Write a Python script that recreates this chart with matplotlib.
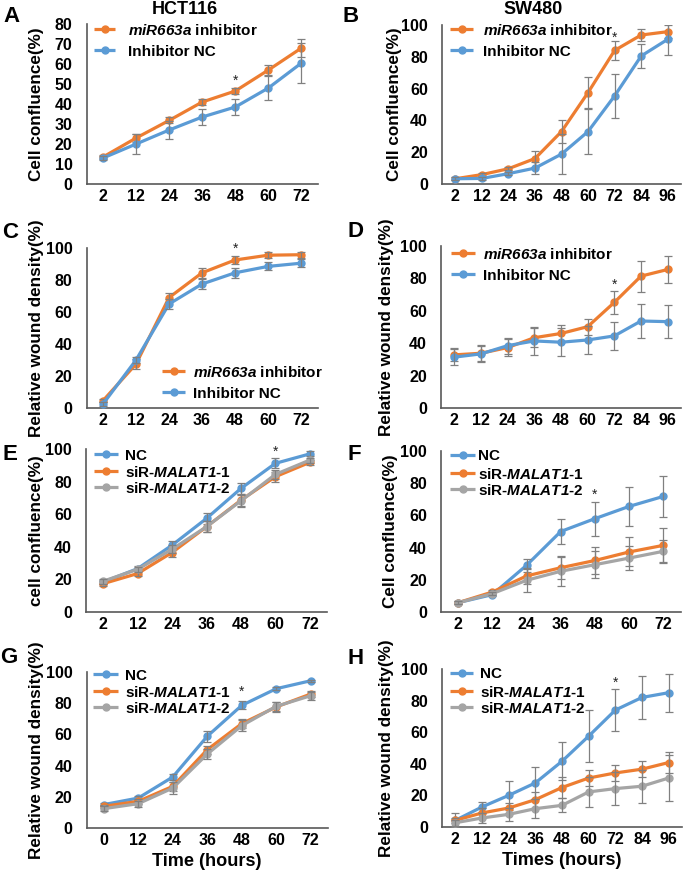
import matplotlib
matplotlib.use('Agg')
import matplotlib.pyplot as plt
from matplotlib.lines import Line2D

plt.rcParams['font.family'] = ['Liberation Sans', 'DejaVu Sans']
plt.rcParams['font.weight'] = 'bold'
plt.rcParams['mathtext.fontset'] = 'custom'
plt.rcParams['mathtext.it'] = 'Liberation Sans:italic:bold'
plt.rcParams['mathtext.rm'] = 'Liberation Sans:italic:bold'
plt.rcParams['mathtext.bf'] = 'Liberation Sans:italic:bold'

ORANGE = '#ED7D31'
BLUE = '#5B9BD5'
GRAY = '#A5A5A5'
ERRC = '#808080'
SPINE = '#595959'

# ---------------- data ----------------
x72 = ['2', '12', '24', '36', '48', '60', '72']
x96 = ['2', '12', '24', '36', '48', '60', '72', '84', '96']
x72g = ['0', '12', '24', '36', '48', '60', '72']

lab_inh = r'$\mathrm{miR663a}$ inhibitor'
lab_nc_inh = 'Inhibitor NC'
lab_nc = 'NC'
lab_si1 = r'siR-$\mathrm{MALAT1}$-1'
lab_si2 = r'siR-$\mathrm{MALAT1}$-2'

# A: HCT116 cell confluence
a_inh = [13.5, 23.0, 31.8, 41.0, 46.5, 57.0, 68.0]
a_inh_err = [1.0, 2.0, 1.5, 1.5, 1.5, 2.5, 4.5]
a_nc = [13.0, 20.0, 27.0, 33.5, 38.5, 48.0, 60.5]
a_nc_err = [1.0, 4.8, 4.5, 4.2, 4.2, 6.0, 10.0]

# B: SW480 cell confluence
b_inh = [3.3, 5.9, 9.6, 16.0, 33.0, 57.5, 84.0, 93.7, 95.8]
b_inh_err = [1.0, 1.0, 1.0, 5.0, 7.0, 10.0, 6.0, 3.5, 4.0]
b_nc = [3.3, 3.5, 6.5, 10.0, 18.8, 33.0, 55.4, 80.5, 91.0]
b_nc_err = [1.0, 1.0, 1.0, 4.0, 12.5, 14.0, 14.0, 7.5, 10.0]

# C: HCT116 relative wound density
c_inh = [4.6, 27.5, 69.0, 84.5, 92.5, 95.5, 95.8]
c_inh_err = [1.0, 3.0, 3.0, 3.0, 2.5, 2.0, 2.0]
c_nc = [2.5, 30.0, 65.0, 77.5, 84.5, 88.5, 90.5]
c_nc_err = [1.0, 2.0, 3.0, 3.0, 3.0, 2.5, 2.5]

# D: SW480 relative wound density
d_inh = [32.8, 33.8, 37.3, 43.4, 46.0, 50.2, 65.2, 81.4, 85.5]
d_inh_err = [4.0, 5.0, 5.0, 6.0, 5.0, 5.0, 7.0, 9.5, 8.5]
d_nc = [31.4, 33.4, 38.5, 41.4, 40.6, 42.0, 44.5, 53.7, 53.3]
d_nc_err = [5.0, 5.0, 5.0, 8.5, 8.5, 8.5, 8.5, 10.5, 10.0]

# E: cell confluence, siRNA
e_nc = [18.4, 26.6, 41.0, 57.4, 75.8, 91.2, 97.0]
e_nc_err = [1.5, 1.5, 2.5, 3.5, 3.5, 3.0, 1.5]
e_si1 = [17.4, 23.6, 36.5, 52.3, 68.6, 83.0, 91.8]
e_si1_err = [1.5, 1.5, 2.5, 3.5, 3.5, 3.0, 1.5]
e_si2 = [18.9, 26.2, 38.5, 52.3, 68.2, 84.4, 93.2]
e_si2_err = [1.5, 1.5, 2.5, 3.5, 3.5, 3.0, 1.5]

# F: cell confluence, siRNA
f_nc = [5.8, 10.8, 29.0, 50.0, 58.0, 65.6, 71.8]
f_nc_err = [1.0, 1.0, 4.0, 7.5, 10.5, 12.0, 12.5]
f_si1 = [5.8, 12.4, 22.4, 27.5, 32.0, 37.3, 41.4]
f_si1_err = [1.0, 1.0, 5.0, 7.0, 8.5, 9.0, 10.5]
f_si2 = [5.8, 11.4, 19.7, 25.3, 29.4, 33.5, 37.7]
f_si2_err = [1.0, 1.0, 7.0, 9.0, 8.5, 7.5, 7.0]

# G: relative wound density, siRNA
g_nc = [15.0, 19.2, 32.7, 58.8, 78.6, 89.3, 94.4]
g_nc_err = [1.0, 1.0, 2.0, 3.5, 2.5, 1.0, 0.5]
g_si1 = [13.9, 17.1, 26.7, 50.2, 66.9, 77.6, 85.9]
g_si1_err = [1.0, 1.5, 3.0, 2.5, 3.0, 3.0, 2.0]
g_si2 = [12.4, 15.6, 25.6, 47.4, 65.6, 78.0, 84.8]
g_si2_err = [1.5, 2.0, 4.0, 3.0, 3.5, 3.0, 2.5]

# H: relative wound density, siRNA
h_nc = [4.2, 12.7, 20.0, 27.9, 41.6, 57.5, 74.0, 82.0, 85.0]
h_nc_err = [4.5, 3.0, 9.0, 10.0, 12.0, 16.5, 13.5, 13.5, 12.0]
h_si1 = [4.2, 8.9, 12.0, 17.3, 25.0, 31.0, 34.2, 36.6, 40.8]
h_si1_err = [1.5, 3.0, 3.0, 5.0, 6.5, 5.0, 5.0, 5.0, 6.5]
h_si2 = [2.7, 5.7, 8.0, 11.6, 13.7, 22.2, 24.3, 25.8, 31.0]
h_si2_err = [2.0, 3.0, 4.0, 6.0, 4.5, 9.5, 10.5, 10.5, 14.5]

# ---------------- figure ----------------
W, H = 685, 871
fig = plt.figure(figsize=(W / 100, H / 100), dpi=100)


def fx(px):
    return px / W


def fy(py):
    return 1 - py / H


TICK_FS = 11.5
LAB_FS = 12.3
LEG_FS = 11.0


def panel(rect, xcats, series, ylim, ystep, ylabel, ylabel_px, letter, letter_px,
          star, legend, xlabel=None):
    left, right, top, bottom = rect
    ax = fig.add_axes([fx(left), fy(bottom), (right - left) / W, (bottom - top) / H])
    for i, (vals, errs, color, label) in enumerate(series):
        ax.plot(xcats, vals, color=color, lw=2.3, marker='o', ms=5,
                mec=color, mfc=color, zorder=3 + 2 * i, solid_capstyle='round')
        ax.errorbar(xcats, vals, yerr=errs, fmt='none', ecolor=ERRC, elinewidth=0.9,
                    capsize=3.2, capthick=0.9, zorder=4 + 2 * i)
    n = len(xcats)
    ax.set_xlim(-0.5, n - 0.5)
    ax.set_ylim(*ylim)
    ax.set_yticks(range(ylim[0], ylim[1] + 1, ystep))
    for s in ['top', 'right']:
        ax.spines[s].set_visible(False)
    for s in ['left', 'bottom']:
        ax.spines[s].set_color(SPINE)
        ax.spines[s].set_linewidth(1.2)
    ax.tick_params(axis='y', length=0, pad=10, labelsize=TICK_FS)
    ax.tick_params(axis='x', length=0, pad=3.5, labelsize=TICK_FS)
    for t in ax.get_xticklabels() + ax.get_yticklabels():
        t.set_fontweight('bold')
    # y label
    ax.set_ylabel(ylabel, fontsize=LAB_FS, fontweight='bold')
    ax.yaxis.set_label_coords((ylabel_px - left) / (right - left), 0.5)
    ax.yaxis.label.set_va('center')
    if xlabel:
        ax.set_xlabel(xlabel, fontsize=LAB_FS + 0.8, fontweight='bold', labelpad=4)
    # star
    if star is not None:
        ax.text(star[0], star[1], '*', ha='center', va='center', fontsize=10,
                fontweight='normal', color='#222222')
    # panel letter
    fig.text(fx(letter_px[0]), fy(letter_px[1]), letter, fontsize=16,
             fontweight='bold', ha='left', va='center')
    # legend
    hx0, hx1, tx, rows = legend
    for (vals, errs, color, label), ry in zip(series, rows):
        ln = Line2D([fx(hx0), fx(hx1)], [fy(ry), fy(ry)], color=color, lw=2.3,
                    transform=fig.transFigure, solid_capstyle='butt')
        mk = Line2D([fx((hx0 + hx1) / 2)], [fy(ry)], color=color, marker='o', ms=5,
                    transform=fig.transFigure)
        fig.add_artist(ln)
        fig.add_artist(mk)
        fig.text(fx(tx), fy(ry), label, fontsize=LEG_FS, fontweight='bold',
                 ha='left', va='center_baseline')
    return ax


# A
panel((86.5, 318, 24, 184), x72,
      [(a_inh, a_inh_err, ORANGE, lab_inh), (a_nc, a_nc_err, BLUE, lab_nc_inh)],
      (0, 80), 10, 'Cell confluence(%)', 37, 'A', (3, 16), (4, 51.5),
      (94, 115, 128, [29, 50]))
# B
panel((442, 681, 25, 184), x96,
      [(b_inh, b_inh_err, ORANGE, lab_inh), (b_nc, b_nc_err, BLUE, lab_nc_inh)],
      (0, 100), 20, 'Cell confluence(%)', 395, 'B', (342, 16), (6, 92),
      (450, 473, 483, [29, 50]))
# C
panel((86.5, 317.6, 248, 408), x72,
      [(c_inh, c_inh_err, ORANGE, lab_inh), (c_nc, c_nc_err, BLUE, lab_nc_inh)],
      (0, 100), 20, 'Relative wound density(%)', 37, 'C', (2, 233), (4, 99.5),
      (162, 185, 193, [371, 392]))
# D
panel((441, 681, 246, 408), x96,
      [(d_inh, d_inh_err, ORANGE, lab_inh), (d_nc, d_nc_err, BLUE, lab_nc_inh)],
      (0, 100), 20, 'Relative wound density(%)', 387, 'D', (348, 231), (6, 76),
      (451, 475, 483, [253, 274]))
# E
panel((86, 327, 449, 612), x72,
      [(e_nc, e_nc_err, BLUE, lab_nc), (e_si1, e_si1_err, ORANGE, lab_si1),
       (e_si2, e_si2_err, GRAY, lab_si2)],
      (0, 100), 20, 'cell confluence(%)', 37, 'E', (2, 455), (5, 98),
      (94, 118, 125, [454, 471, 487]))
# F
panel((441, 680.5, 451, 612), x72,
      [(f_nc, f_nc_err, BLUE, lab_nc), (f_si1, f_si1_err, ORANGE, lab_si1),
       (f_si2, f_si2_err, GRAY, lab_si2)],
      (0, 100), 20, 'Cell confluence(%)', 390, 'F', (348, 455), (4, 73),
      (450, 475, 478, [455, 473, 489]))
# G
panel((86.5, 328, 672, 828), x72g,
      [(g_nc, g_nc_err, BLUE, lab_nc), (g_si1, g_si1_err, ORANGE, lab_si1),
       (g_si2, g_si2_err, GRAY, lab_si2)],
      (0, 100), 20, 'Relative wound density(%)', 37, 'G', (0, 657), (4, 87),
      (93, 118, 125, [674, 691, 707]), xlabel='Time (hours)')
# H
panel((442, 682, 669, 827), x96,
      [(h_nc, h_nc_err, BLUE, lab_nc), (h_si1, h_si1_err, ORANGE, lab_si1),
       (h_si2, h_si2_err, GRAY, lab_si2)],
      (0, 100), 20, 'Relative wound density(%)', 387, 'H', (348, 659), (6, 91.5),
      (450, 473, 480, [673, 691, 707]), xlabel='Times (hours)')

# titles
fig.text(fx(185), fy(9), 'HCT116', fontsize=13, fontweight='bold', ha='center', va='center')
fig.text(fx(533), fy(10), 'SW480', fontsize=13, fontweight='bold', ha='center', va='center')

fig.savefig('out.png', dpi=100)
